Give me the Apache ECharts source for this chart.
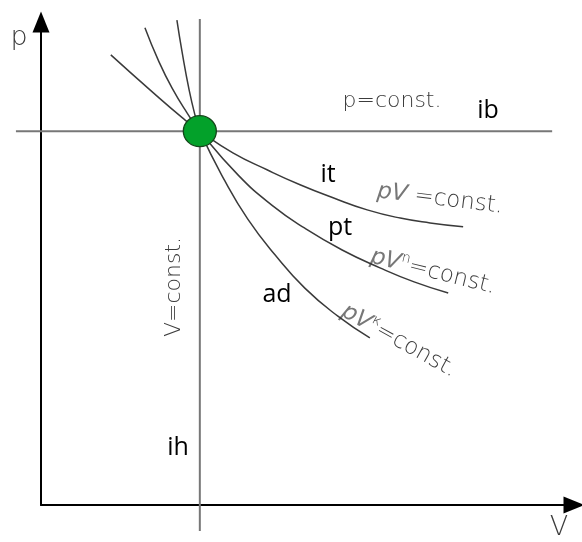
<!DOCTYPE html>
<html>
<head>
<meta charset="utf-8">
<script src="https://cdn.jsdelivr.net/npm/echarts@6/dist/echarts.min.js"></script>
<style>html,body{margin:0;padding:0;background:#fff}#c{width:582px;height:542px}</style>
</head>
<body>
<div id="c"></div>
<script>
// State point (V1, p1) — intersection of all changes of state
var statePoint = [[2.98, 7.74]];
// isobar p = const.
var isobarV = [-0.47, 9.59];
var isobarP = [7.74, 7.74];
// isochore V = const.
var isochoreV = [2.98, 2.98];
var isochoreP = [-0.54, 10.06];
// isotherm pV = const.
var isothermV = [1.31, 2.05, 2.66, 2.98, 3.60, 4.24, 4.86, 5.48, 6.12, 6.74, 7.30, 7.92];
var isothermP = [9.32, 8.59, 8.01, 7.74, 7.29, 6.94, 6.63, 6.36, 6.11, 5.94, 5.84, 5.76];
// polytrope pV^n = const.
var polytropeV = [1.95, 2.20, 2.46, 2.74, 2.98, 3.70, 4.33, 4.95, 5.65, 6.36, 7.00, 7.64];
var polytropeP = [9.88, 9.21, 8.63, 8.12, 7.74, 6.83, 6.21, 5.73, 5.28, 4.91, 4.62, 4.39];
// adiabat pV^k = const.
var adiabatV = [2.55, 2.65, 2.78, 2.89, 2.98, 3.45, 3.88, 4.39, 4.95, 5.57, 6.17];
var adiabatP = [10.04, 9.36, 8.59, 8.07, 7.74, 6.71, 5.92, 5.18, 4.49, 3.91, 3.46];

function zip(a, b) { return a.map(function (v, i) { return [v, b[i]]; }); }

var chart = echarts.init(document.getElementById('c'));
var curveStyle = { color: '#3a3a3a', width: 1.5 };
var constStyle = { color: '#777', width: 2 };
var thin = "'DejaVu Sans'";
var labelFont = "'Open Sans', 'Noto Sans', sans-serif";
var grey = '#3c3c3c';

function lineSeries(data, style) {
  return { type: 'line', xAxisIndex: 1, yAxisIndex: 1, data: data, smooth: 0.5,
           showSymbol: false, symbol: 'none', clip: false, lineStyle: style, silent: true, z: 2 };
}
function txt(x, y, t, font, fill, rot) {
  return { type: 'text', x: x, y: y, rotation: (rot || 0) * Math.PI / 180,
    style: { text: t, font: font, fill: fill, align: 'center', verticalAlign: 'middle' } };
}
function constTxt(x, y, sup, rot) {
  return { type: 'text', x: x, y: y, rotation: rot * Math.PI / 180,
    style: { text: '{i|pV}' + (sup ? '{s|' + sup + '}' : '{g| }') + '{c|=const.}', align: 'center', verticalAlign: 'middle',
      rich: {
        i: { fontStyle: 'italic', fontWeight: 200, fontSize: 23, fontFamily: 'DejaVu Sans', fill: '#777' },
        c: { fontWeight: 200, fontSize: 23, fontFamily: 'DejaVu Sans', fill: grey },
        g: { fontWeight: 200, fontSize: 23, fontFamily: 'DejaVu Sans', fill: grey },
        s: { fontWeight: 200, fontSize: 14, fontFamily: 'DejaVu Sans', fill: grey, padding: [0, 0, 13, 0] }
      } } };
}

var axisCommon = {
  type: 'value', min: 0, max: 10,
  axisLine: { show: true, onZero: false, symbol: ['none', 'triangle'], symbolSize: [17, 21], symbolOffset: [0, 0],
              lineStyle: { color: '#000', width: 2 } },
  axisTick: { show: false }, axisLabel: { show: false }, splitLine: { show: false }
};
var hiddenAxis = { type: 'value', show: false, splitLine: { show: false } };

chart.setOption({
  animation: false,
  backgroundColor: '#fff',
  grid: [
    { left: 41, right: 8, top: 22, bottom: 37 },
    { left: 0, right: 8, top: 22, bottom: 37 }
  ],
  xAxis: [
    Object.assign({ gridIndex: 0 }, axisCommon),
    Object.assign({ gridIndex: 1, min: -0.769, max: 10 }, hiddenAxis)
  ],
  yAxis: [
    Object.assign({ gridIndex: 0 }, axisCommon),
    Object.assign({ gridIndex: 1, min: 0, max: 10 }, hiddenAxis)
  ],
  series: [
    lineSeries(zip(isobarV, isobarP), constStyle),
    lineSeries(zip(isochoreV, isochoreP), constStyle),
    lineSeries(zip(isothermV, isothermP), curveStyle),
    lineSeries(zip(polytropeV, polytropeP), curveStyle),
    lineSeries(zip(adiabatV, adiabatP), curveStyle),
    { type: 'scatter', xAxisIndex: 1, yAxisIndex: 1, data: statePoint, symbolSize: [33, 31], z: 5, silent: true,
      itemStyle: { color: '#03a12a', opacity: 1, borderColor: '#14461a', borderWidth: 1.3 } }
  ],
  graphic: [
    txt(19, 38, 'p', '200 27px ' + thin, grey),
    txt(559, 528, 'V', '200 27px ' + thin, grey),
    txt(392, 101, 'p=const.', '200 22px ' + thin, grey),
    txt(174, 287, 'V=const.', '200 22px ' + thin, grey, 90),
    txt(488, 111, 'ib', '25px ' + labelFont, '#000'),
    txt(328, 175, 'it', '25px ' + labelFont, '#000'),
    txt(340, 228, 'pt', '25px ' + labelFont, '#000'),
    txt(277, 295, 'ad', '25px ' + labelFont, '#000'),
    txt(178, 448, 'ih', '25px ' + labelFont, '#000'),
    constTxt(440, 199, null, -7),
    constTxt(433, 272, 'n', -14),
    constTxt(399, 341, 'κ', -29)
  ]
});
</script>
</body>
</html>
